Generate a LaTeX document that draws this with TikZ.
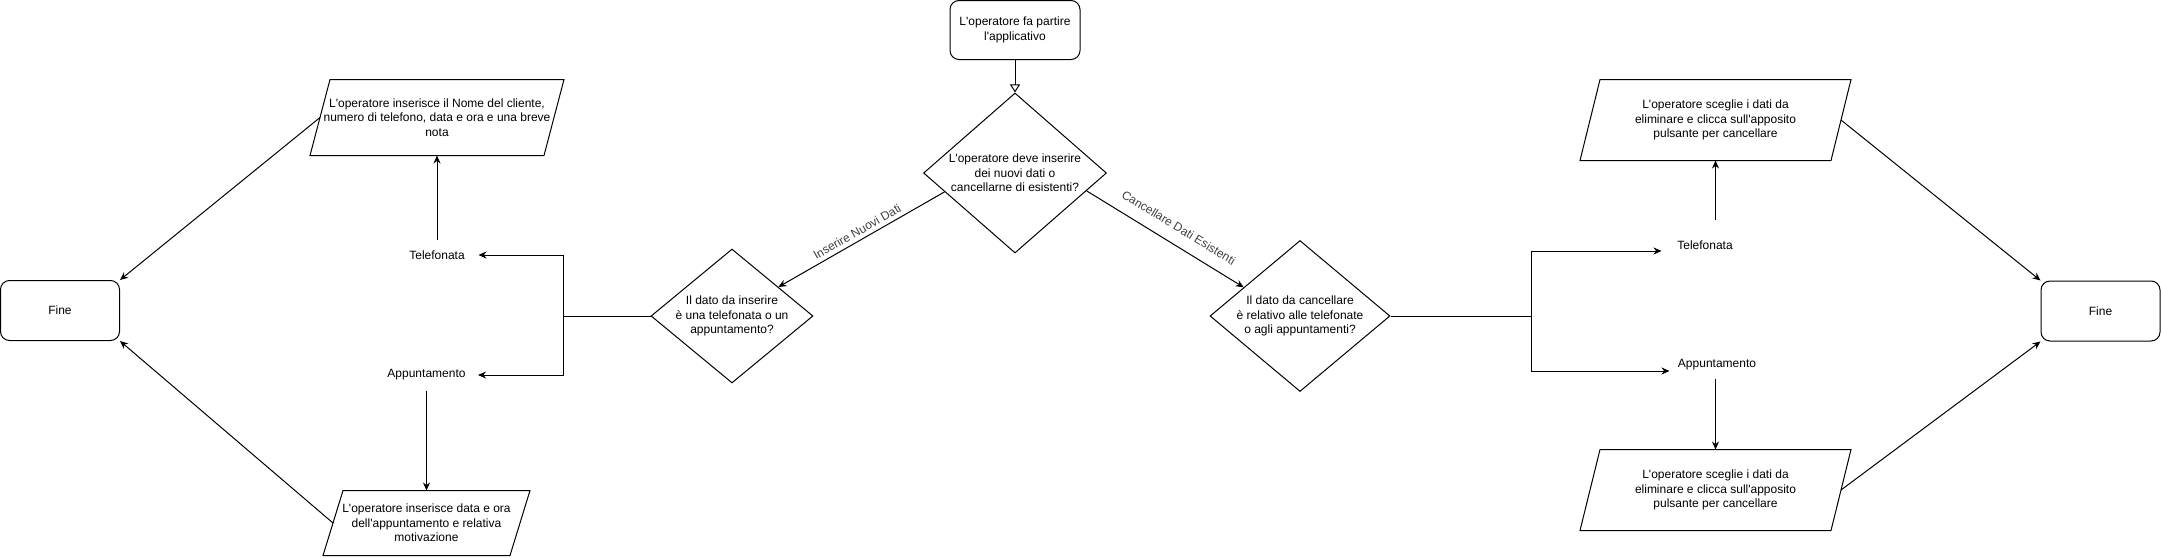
\documentclass[tikz,border=0pt]{standalone}
\usepackage{fontspec}
\setmainfont{Liberation Sans}
\usetikzlibrary{shapes.geometric,arrows.meta}

\newcommand{\apos}{\textquotesingle}

\begin{document}
\begin{tikzpicture}[x=1pt, y=-1pt,
    every node/.style={font=\fontsize{12}{14.4}\selectfont, align=center},
    >={Stealth[length=8pt,width=7pt]}, line width=1pt,
    startbox/.style={draw, rounded corners=9pt, minimum width=130pt, minimum height=59pt},
    finebox/.style={draw, rounded corners=9pt, minimum width=119pt, minimum height=60pt},
    decision/.style={draw, diamond, aspect=1.2, inner sep=0pt},
    iobox/.style={inner sep=0pt},
    choice/.style={inner sep=0pt},
    edgelabel/.style={sloped, text=black!75, inner sep=1pt}
    ]

    \useasboundingbox (0,0) rectangle (2161,557);

    % Define nodes
    \node[startbox] (start) at (1015,30) {L\apos{}operatore fa partire\\l\apos{}applicativo};
    \node[decision, minimum width=183pt, minimum height=160pt] (dec1) at (1015,173)
        {L\apos{}operatore deve inserire\\dei nuovi dati o\\cancellarne di esistenti?};
    \node[decision, minimum width=162pt, minimum height=131pt] (dec2) at (732,316)
        {Il dato da inserire\\è una telefonata o un\\appuntamento?};
    \node[decision, minimum width=180pt, minimum height=151pt] (dec3) at (1300,316)
        {Il dato da cancellare\\è relativo alle telefonate\\o agli appuntamenti?};

    \node[choice, minimum width=82pt, minimum height=30pt] (telL) at (437,255) {Telefonata};
    \node[choice, minimum width=102pt, minimum height=30pt] (appL) at (426.5,375) {Appuntamento};
    \node[iobox, minimum width=233pt, minimum height=75pt] (ioTL) at (437,117.5)
        {L\apos{}operatore inserisce il Nome del cliente,\\numero di telefono, data e ora e una breve\\nota};
    \node[iobox, minimum width=186pt, minimum height=64pt] (ioAL) at (426.5,523)
        {L\apos{}operatore inserisce data e ora\\dell\apos{}appuntamento e relativa\\motivazione};
    \node[finebox] (fineL) at (60,310.5) {Fine};

    \node[choice, minimum width=86pt, minimum height=50pt] (telR) at (1705,245) {Telefonata};
    \node[choice, minimum width=94pt, minimum height=26pt] (appR) at (1717,365) {Appuntamento};
    \node[iobox, minimum width=250pt, minimum height=80pt] (ioTR) at (1715.5,120)
        {L\apos{}operatore sceglie i dati da\\eliminare e clicca sull\apos{}apposito\\pulsante per cancellare};
    \node[iobox, minimum width=250pt, minimum height=80pt] (ioAR) at (1715.5,490)
        {L\apos{}operatore sceglie i dati da\\eliminare e clicca sull\apos{}apposito\\pulsante per cancellare};
    \node[finebox] (fineR) at (2100.5,311) {Fine};

    % slanted outline of the input boxes
    \foreach \n in {ioTL,ioAL,ioTR,ioAR}
        \draw ([xshift=10pt]\n.north west) -- ([xshift=10pt]\n.north east)
            -- ([xshift=-10pt]\n.south east) -- ([xshift=-10pt]\n.south west) -- cycle;

    \coordinate (forkL) at (563,316);
    \coordinate (forkR) at (1531,316);

    % Draw directed edges
    \draw[-{Triangle[open,length=8pt,width=10pt]}] (start) -- (dec1);
    \draw[->] (dec1.195) -- (dec2.32) node[edgelabel, midway, above=3pt] {Inserire Nuovi Dati};
    \draw[->] (dec1.-14) -- (dec3.153) node[edgelabel, pos=0.53, above=11pt] {Cancellare Dati Esistenti};

    \draw (dec2.west) -- (forkL);
    \draw[->] (forkL) |- (telL.east);
    \draw[->] (forkL) |- (appL.east);
    \draw[->] (telL.north) -- (ioTL.south);
    \draw[->] (appL.south) -- (ioAL.north);
    \draw[->] (ioTL.west) -- (fineL.north east);
    \draw[->] (ioAL.west) -- (fineL.south east);

    \draw (dec3.east) -- (forkR);
    \draw[->] (forkR) |- ([yshift=-6pt]telR.west);
    \draw[->] (forkR) |- ([yshift=-6pt]appR.west);
    \draw[->] (telR.north -| ioTR.south) -- (ioTR.south);
    \draw[->] (appR.south -| ioAR.north) -- (ioAR.north);
    \draw[->] (ioTR.east) -- (fineR.north west);
    \draw[->] (ioAR.east) -- (fineR.south west);

\end{tikzpicture}
\end{document}
